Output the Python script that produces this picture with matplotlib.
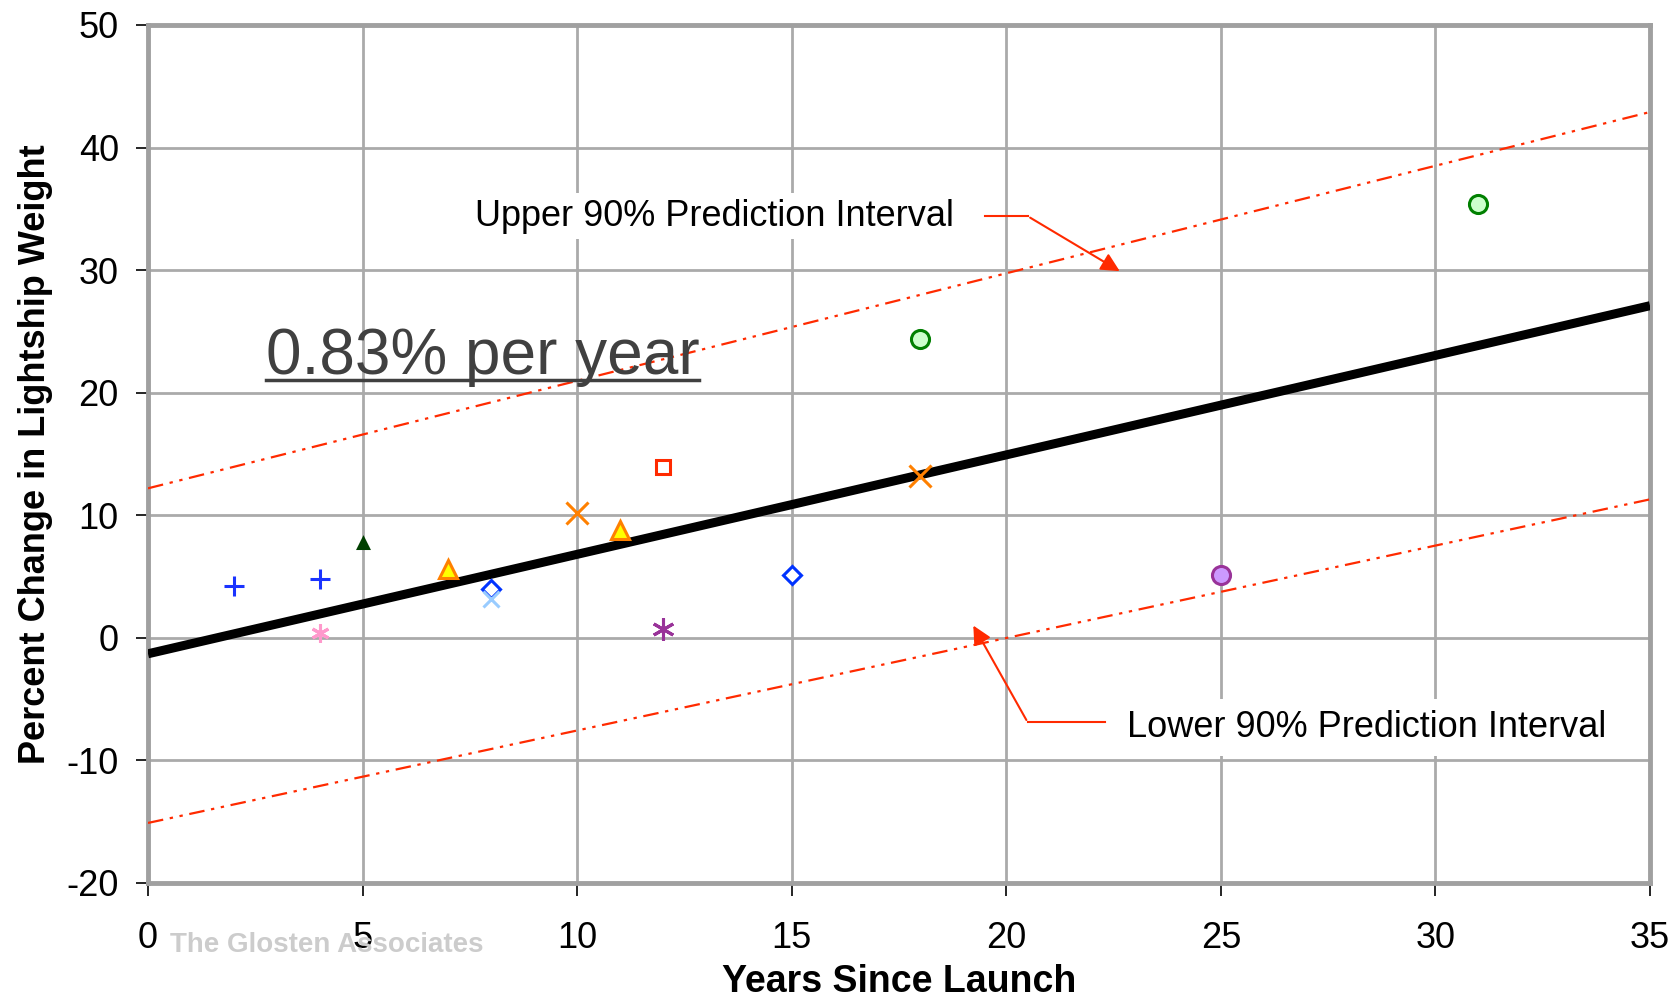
import matplotlib
matplotlib.use("Agg")
import matplotlib.pyplot as plt

# regression and 90% prediction interval
fit_x = [0, 35]
fit_y = [-1.3, 27.1]
upper_y = [12.2, 42.9]
lower_y = [-15.1, 11.3]

# vessel data, one list pair per marker style
plus_x, plus_y = [2, 4], [4.2, 4.8]
pink_x, pink_y = [4], [0.4]
dgreen_x, dgreen_y = [5], [7.7]
tri_x, tri_y = [7, 11], [5.6, 8.8]
diam_x, diam_y = [8, 15], [4.0, 5.1]
lblue_x, lblue_y = [8], [3.2]
ox_x, ox_y = [10, 18], [10.2, 13.2]
sq_x, sq_y = [12], [13.9]
purp_x, purp_y = [12], [0.7]
gcirc_x, gcirc_y = [18, 31], [24.4, 35.4]
pcirc_x, pcirc_y = [25], [5.1]

x_ticks = [0, 5, 10, 15, 20, 25, 30, 35]
y_ticks = [-20, -10, 0, 10, 20, 30, 40, 50]

plt.rcParams["font.family"] = ["Liberation Sans", "DejaVu Sans"]
plt.rcParams["axes.unicode_minus"] = False

fig = plt.figure(figsize=(16.81, 9.99), dpi=100)
ax = fig.add_axes([148 / 1681, 1 - 883 / 999, (1650 - 148) / 1681, (883 - 25) / 999])

red = "#ff2a00"
pi_style = (0, (7, 3, 1.5, 3, 1.5, 3))
ax.plot(fit_x, upper_y, color=red, lw=1.6, ls=pi_style, zorder=3)
ax.plot(fit_x, lower_y, color=red, lw=1.6, ls=pi_style, zorder=3)
ax.plot(fit_x, fit_y, color="black", lw=6.5, solid_capstyle="butt", zorder=4)

mk = dict(ls="none", zorder=5, mew=2.2)
ax.plot(plus_x, plus_y, marker="+", ms=15, color="#1a33ff", **mk)
ax.plot(pink_x, pink_y, marker=(6, 2, 0), ms=13, color="#ff99cc", **mk)
ax.plot(dgreen_x, dgreen_y, marker="^", ms=7, color="#004000", **mk)
ax.plot(tri_x, tri_y, marker="^", ms=13, mec="#ff8000", mfc="#ffff00", **mk)
ax.plot(diam_x, diam_y, marker="D", ms=9, mec="#0033ff", mfc="white", **mk)
ax.plot(lblue_x, lblue_y, marker="x", ms=11, color="#99ccff", **mk)
ax.plot(ox_x, ox_y, marker="x", ms=16, color="#ff8000", **mk)
ax.plot(sq_x, sq_y, marker="s", ms=10, mec=red, mfc="white", **mk)
ax.plot(purp_x, purp_y, marker=(6, 2, 0), ms=16, color="#993399", **mk)
ax.plot(gcirc_x, gcirc_y, marker="o", ms=13, mec="#008000", mfc="#ccffcc", **mk)
ax.plot(pcirc_x, pcirc_y, marker="o", ms=13, mec="#993399", mfc="#cc99ff", **mk)

# annotations
ax.text(13.2, 34.4, "Upper 90% Prediction Interval", fontsize=26, ha="center", va="center",
        bbox=dict(facecolor="white", edgecolor="none", pad=4), zorder=6)
ax.plot([19.5, 20.5], [34.4, 34.4], color=red, lw=1.5, zorder=6)
ax.annotate("", xy=(22.7, 29.8), xytext=(20.5, 34.4),
            arrowprops=dict(arrowstyle="-|>", color=red, lw=1.5, mutation_scale=28), zorder=6)

ax.text(28.4, -7.3, "Lower 90% Prediction Interval", fontsize=26, ha="center", va="center",
        bbox=dict(facecolor="white", edgecolor="none", pad=8), zorder=6)
ax.plot([22.3, 20.5], [-6.9, -6.9], color=red, lw=1.5, zorder=6)
ax.annotate("", xy=(19.2, 1.2), xytext=(20.5, -6.9),
            arrowprops=dict(arrowstyle="-|>", color=red, lw=1.5, mutation_scale=28), zorder=6)

ax.text(2.75, 21.5, "0.83% per year", fontsize=46, color="#404040", ha="left", va="baseline", zorder=6)
ax.plot([2.75, 12.85], [21.05, 21.05], color="#404040", lw=2.5, zorder=6)

ax.set_xlim(0, 35)
ax.set_ylim(-20, 50)
ax.set_xticks(x_ticks)
ax.set_yticks(y_ticks)
ax.tick_params(labelsize=26, length=9, width=1.2, direction="out", color="black")
ax.tick_params(axis="x", pad=18)
ax.tick_params(axis="y", pad=12)
ax.grid(True, color="#aaaaaa", lw=2)
ax.set_axisbelow(True)
for s in ax.spines.values():
    s.set_color("#a0a0a0")
    s.set_linewidth(3.5)

ax.set_xlabel("Years Since Launch", fontsize=27, fontweight="bold", labelpad=6)
ax.set_ylabel("Percent Change in Lightship Weight", fontsize=26, fontweight="bold", labelpad=10)

fig.text(170 / 1681, 1 - 945 / 999, "The Glosten Associates", fontsize=20, fontweight="bold",
         color="#cccccc", ha="left", va="center")

fig.savefig("out.png", dpi=100)
